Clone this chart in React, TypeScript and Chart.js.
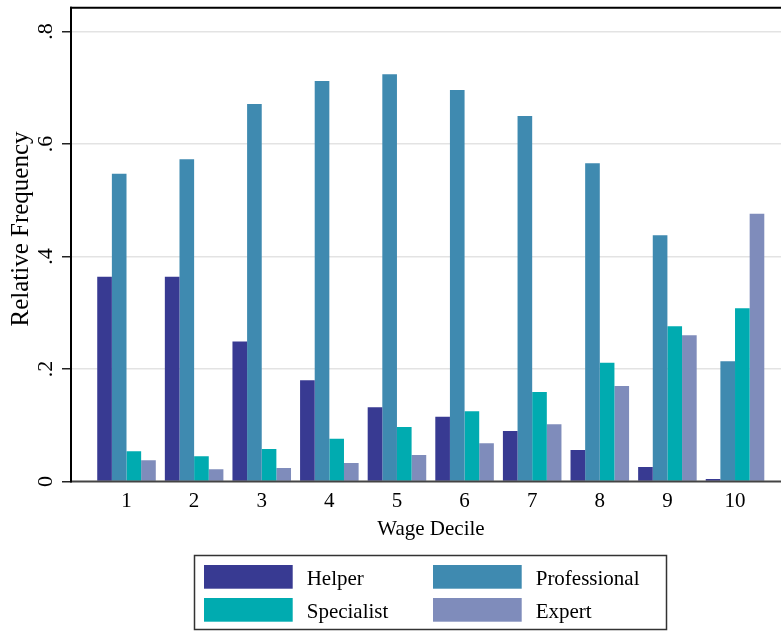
import React, { useEffect, useRef } from 'react';
import { Chart, registerables } from 'chart.js';

Chart.register(...registerables);

const deciles = [1, 2, 3, 4, 5, 6, 7, 8, 9, 10];
const helper = [0.364, 0.364, 0.249, 0.18, 0.132, 0.115, 0.09, 0.056, 0.026, 0.0045];
const professional = [0.547, 0.573, 0.671, 0.712, 0.724, 0.696, 0.65, 0.566, 0.438, 0.214];
const specialist = [0.054, 0.045, 0.058, 0.076, 0.097, 0.125, 0.159, 0.211, 0.276, 0.308];
const expert = [0.038, 0.022, 0.024, 0.033, 0.047, 0.068, 0.102, 0.17, 0.26, 0.476];
const yTicks = [0, 0.2, 0.4, 0.6, 0.8];
const yTickLabels = ['0', '.2', '.4', '.6', '.8'];
const seriesNames = ['Helper', 'Professional', 'Specialist', 'Expert'];
const seriesValues = [helper, professional, specialist, expert];
const seriesColors = ['#383a92', '#3f8ab0', '#00abb0', '#7f8cbb'];
const xTitle = 'Wage Decile';
const yTitle = 'Relative Frequency';

const FONT = '"Liberation Serif", "Times New Roman", serif';

const decor = {
  id: 'decor',
  afterDatasetsDraw(chart: any) {
    const ctx = chart.ctx as CanvasRenderingContext2D;
    const { left, top, bottom } = chart.chartArea;
    const yScale = chart.scales.y;
    const W = chart.width;
    ctx.save();
    // baseline
    ctx.strokeStyle = '#444';
    ctx.lineWidth = 2;
    ctx.beginPath();
    ctx.moveTo(left, bottom);
    ctx.lineTo(W, bottom);
    ctx.stroke();
    // top frame line
    ctx.strokeStyle = '#000';
    ctx.beginPath();
    ctx.moveTo(left - 1, top - 0.3);
    ctx.lineTo(W, top - 0.3);
    ctx.stroke();
    // left axis
    ctx.beginPath();
    ctx.moveTo(left, top - 1.3);
    ctx.lineTo(left, bottom + 1);
    ctx.stroke();

    // y tick labels (rotated)
    ctx.fillStyle = '#000';
    ctx.font = `22px ${FONT}`;
    ctx.textAlign = 'center';
    ctx.textBaseline = 'alphabetic';
    yTicks.forEach((v, i) => {
      const py = yScale.getPixelForValue(v);
      ctx.save();
      ctx.translate(51.5, py);
      ctx.rotate(-Math.PI / 2);
      ctx.fillText(yTickLabels[i], 0, 0);
      ctx.restore();
    });

    // y title
    ctx.font = `25px ${FONT}`;
    ctx.save();
    ctx.translate(27.5, 229);
    ctx.rotate(-Math.PI / 2);
    ctx.fillText(yTitle, 0, 0);
    ctx.restore();

    // x title
    ctx.font = `21px ${FONT}`;
    ctx.fillText(xTitle, 431, 535);

    // legend
    ctx.strokeStyle = '#333';
    ctx.lineWidth = 1.5;
    ctx.strokeRect(194.5, 555.5, 472, 74);
    const pos = [
      [204, 565],
      [433, 565],
      [204, 598],
      [433, 598],
    ];
    ctx.textAlign = 'left';
    ctx.font = `21px ${FONT}`;
    seriesNames.forEach((name, k) => {
      const [sx, sy] = pos[k];
      ctx.fillStyle = seriesColors[k];
      ctx.fillRect(sx, sy, 88.7, 23.7);
      ctx.fillStyle = '#000';
      ctx.fillText(name, sx + 102.7, sy + 20);
    });
    ctx.restore();
  },
};

export default function App() {
  const ref = useRef<HTMLCanvasElement>(null);
  useEffect(() => {
    const chart = new Chart(ref.current as HTMLCanvasElement, {
      type: 'bar',
      data: {
        datasets: seriesNames.map((n, k) => ({
          label: n,
          data: deciles.map((d, i) => ({ x: d, y: seriesValues[k][i] })),
          backgroundColor: seriesColors[k],
          borderWidth: 0,
          categoryPercentage: 0.866,
          barPercentage: 1,
        })),
      } as any,
      options: {
        responsive: false,
        animation: false,
        devicePixelRatio: 1,
        layout: { padding: { top: 8, right: 0, bottom: 90, left: 0 } },
        plugins: { legend: { display: false }, tooltip: { enabled: false } },
        scales: {
          x: {
            type: 'linear',
            min: 0.179,
            max: 10.68,
            offset: false,
            grid: { display: false, offset: false, drawTicks: false },
            border: { display: false },
            afterBuildTicks: (s: any) => {
              s.ticks = deciles.map((v) => ({ value: v }));
            },
            afterFit: (s: any) => {
              s.height = 59.5;
            },
            ticks: {
              font: { family: FONT, size: 21 },
              color: '#000',
              padding: 7,
              autoSkip: false,
              maxRotation: 0,
              minRotation: 0,
              callback: (v: any) => String(v),
            },
          },
          y: {
            type: 'linear',
            min: 0,
            max: 0.8418,
            grid: {
              color: (c: any) => (c.tick && c.tick.value === 0 ? 'rgba(0,0,0,0)' : '#e3e3e3'),
              lineWidth: 1.5,
              tickColor: '#222',
              tickLength: 9,
              tickWidth: 1.5,
            },
            border: { display: false },
            afterBuildTicks: (s: any) => {
              s.ticks = yTicks.map((v) => ({ value: v }));
            },
            afterFit: (s: any) => {
              s.width = 71;
            },
            ticks: { display: false },
          },
        } as any,
      },
      plugins: [decor],
    });
    return () => chart.destroy();
  }, []);
  return (
    <div style={{ position: 'absolute', left: 0, top: 0, width: 781, height: 631, background: '#fff' }}>
      <canvas ref={ref} width={781} height={631} style={{ display: 'block' }} />
    </div>
  );
}
